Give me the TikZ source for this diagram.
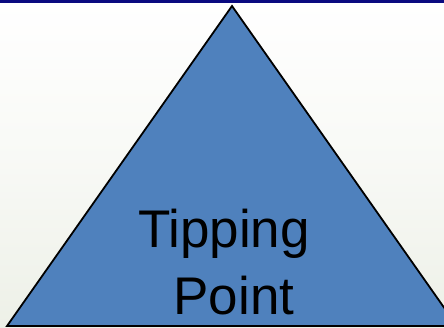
\documentclass[tikz,border=0pt]{standalone}
\usepackage{fontspec}
\setmainfont{Liberation Sans}
\definecolor{triblue}{HTML}{4F81BD}
\definecolor{bandnavy}{HTML}{0A0A80}
\definecolor{bgbottom}{HTML}{EDF0E7}
\begin{document}
\begin{tikzpicture}[x=1pt,y=-1pt,
  lbl/.style={font=\fontsize{53}{63}\selectfont, inner sep=0pt, anchor=base, text=black}]
\useasboundingbox (0,0) rectangle (444,328);
\shade[top color=white, bottom color=bgbottom, middle color=white!60!bgbottom] (0,0) rectangle (444,328);
\fill[bandnavy] (0,0) rectangle (444,3.5);
\begin{scope}
\clip (0,0) rectangle (444,328);
\draw[fill=triblue, line width=1.8pt, line join=miter] (232,6) -- (457,326) -- (7,326) -- cycle;
\end{scope}
\node[lbl] (tip) at (224,248) {Tipping};
\node[lbl] (pt) at (234,315) {Point};
\end{tikzpicture}
\end{document}
